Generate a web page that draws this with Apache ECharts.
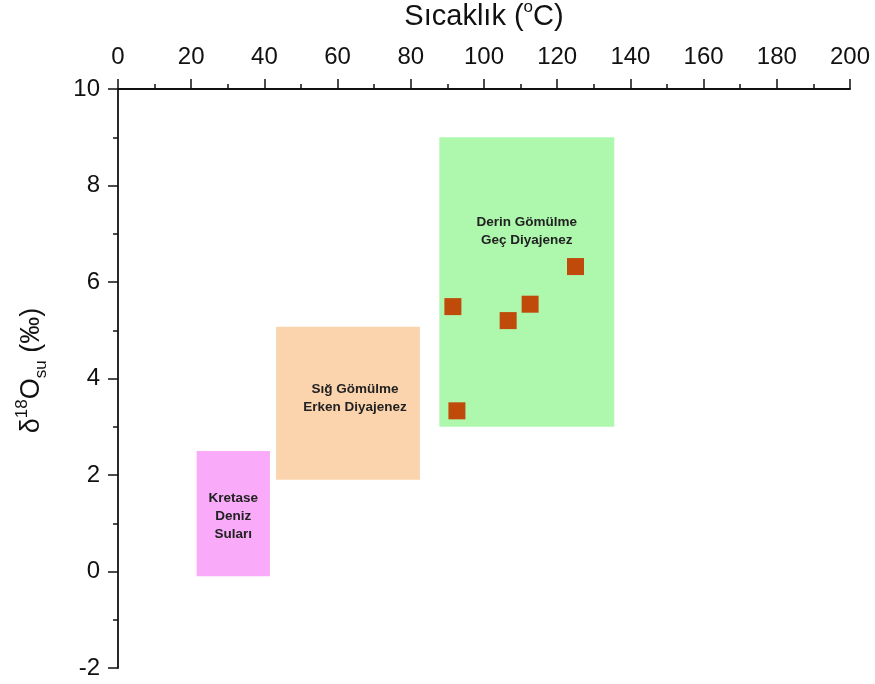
<!DOCTYPE html>
<html>
<head>
<meta charset="utf-8">
<script src="https://cdn.jsdelivr.net/npm/echarts@6/dist/echarts.min.js"></script>
<style>
  html, body { margin: 0; padding: 0; background: #ffffff; }
  #chart { width: 875px; height: 684px; }
</style>
</head>
<body>
<div id="chart"></div>
<script>
// Sample temperatures (°C) and computed water δ18O (‰)
const sampleTemp = [91.5, 92.6, 106.6, 112.6, 125.0];
const sampleD18O = [5.49, 3.33, 5.20, 5.54, 6.32];

// Diagenetic environment fields
const zoneNames = ['Kretase\nDeniz\nSuları', 'Sığ Gömülme\nErken Diyajenez', 'Derin Gömülme\nGeç Diyajenez'];
const zoneTempMin = [21.5, 43.2, 87.8];
const zoneTempMax = [41.5, 82.5, 135.6];
const zoneD18OMin = [-0.1, 1.9, 3.0];
const zoneD18OMax = [2.5, 5.07, 9.0];

// Axis tick labels
const tempTicks = [0, 20, 40, 60, 80, 100, 120, 140, 160, 180, 200];
const d18oTicks = [-2, 0, 2, 4, 6, 8, 10];

// Drawing styles
const zoneColors = ['#f9aaf8', '#fbd4ae', '#aef8ae'];
const zoneLabelOffset = [[0, 3], [7, -5], [0, -51]];
const FONT = '"Liberation Sans", Arial, sans-serif';

const zoneData = zoneNames.map((n, i) => [zoneTempMin[i], zoneTempMax[i], zoneD18OMin[i], zoneD18OMax[i]]);
const sampleData = sampleTemp.map((t, i) => [t, sampleD18O[i]]);

const chart = echarts.init(document.getElementById('chart'), null, { renderer: 'canvas' });

chart.setOption({
  backgroundColor: '#ffffff',
  animation: false,
  grid: { left: 118, top: 89, width: 732, height: 579, outerBoundsMode: 'none', containLabel: false },
  xAxis: {
    type: 'value',
    position: 'top',
    min: tempTicks[0],
    max: tempTicks[tempTicks.length - 1],
    interval: tempTicks[1] - tempTicks[0],
    name: '{t|Sıcaklık (}{s|o}{t|C)}',
    nameLocation: 'middle',
    nameGap: 58,
    nameMoveOverlap: false,
    nameTextStyle: {
      rich: {
        t: { fontFamily: FONT, fontSize: 29, color: '#111', verticalAlign: 'bottom', lineHeight: 32 },
        s: { fontFamily: FONT, fontSize: 17, color: '#111', verticalAlign: 'top', lineHeight: 32 }
      }
    },
    axisLine: { show: true, onZero: false, lineStyle: { color: '#111', width: 1.8 } },
    axisTick: { show: true, inside: false, length: 10, lineStyle: { color: '#111', width: 1.5 } },
    minorTick: { show: true, splitNumber: 2, length: 5, lineStyle: { color: '#111', width: 1.5 } },
    axisLabel: { fontFamily: FONT, fontSize: 24, color: '#111', margin: 20 },
    splitLine: { show: false }
  },
  yAxis: {
    type: 'value',
    min: d18oTicks[0],
    max: d18oTicks[d18oTicks.length - 1],
    interval: d18oTicks[1] - d18oTicks[0],
    name: '{t|δ}{s|18}{t|O}{b|su}{t| (‰)}',
    nameLocation: 'middle',
    nameGap: 68,
    nameRotate: 90,
    nameMoveOverlap: false,
    nameTextStyle: {
      padding: [0, 0, 0, 16],
      rich: {
        t: { fontFamily: FONT, fontSize: 27, color: '#111', verticalAlign: 'middle', lineHeight: 36 },
        s: { fontFamily: FONT, fontSize: 17, color: '#111', verticalAlign: 'top', lineHeight: 36 },
        b: { fontFamily: FONT, fontSize: 17, color: '#111', verticalAlign: 'bottom', lineHeight: 36 }
      }
    },
    axisLine: { show: true, onZero: false, lineStyle: { color: '#111', width: 1.8 } },
    axisTick: { show: true, inside: false, length: 10, lineStyle: { color: '#111', width: 1.5 } },
    minorTick: { show: true, splitNumber: 2, length: 5, lineStyle: { color: '#111', width: 1.5 } },
    axisLabel: { fontFamily: FONT, fontSize: 24, color: '#111', margin: 18 },
    splitLine: { show: false }
  },
  series: [
    {
      type: 'custom',
      name: 'zones',
      data: zoneData,
      encode: { x: [0, 1], y: [2, 3] },
      z: 1,
      renderItem: function (params, api) {
        const i = params.dataIndex;
        const p0 = api.coord([api.value(0), api.value(3)]);
        const p1 = api.coord([api.value(1), api.value(2)]);
        const off = zoneLabelOffset[i];
        return {
          type: 'group',
          children: [
            {
              type: 'rect',
              shape: { x: p0[0], y: p0[1], width: p1[0] - p0[0], height: p1[1] - p0[1] },
              style: { fill: zoneColors[i] }
            },
            {
              type: 'text',
              x: (p0[0] + p1[0]) / 2 + off[0],
              y: (p0[1] + p1[1]) / 2 + off[1],
              style: {
                text: zoneNames[i],
                fill: '#222',
                font: 'bold 13.5px ' + FONT,
                align: 'center',
                verticalAlign: 'middle',
                lineHeight: 18
              }
            }
          ]
        };
      }
    },
    {
      type: 'scatter',
      name: 'samples',
      data: sampleData,
      symbol: 'rect',
      symbolSize: 17,
      z: 3,
      itemStyle: { color: '#bf4a0a', opacity: 1 }
    }
  ]
});
</script>
</body>
</html>
